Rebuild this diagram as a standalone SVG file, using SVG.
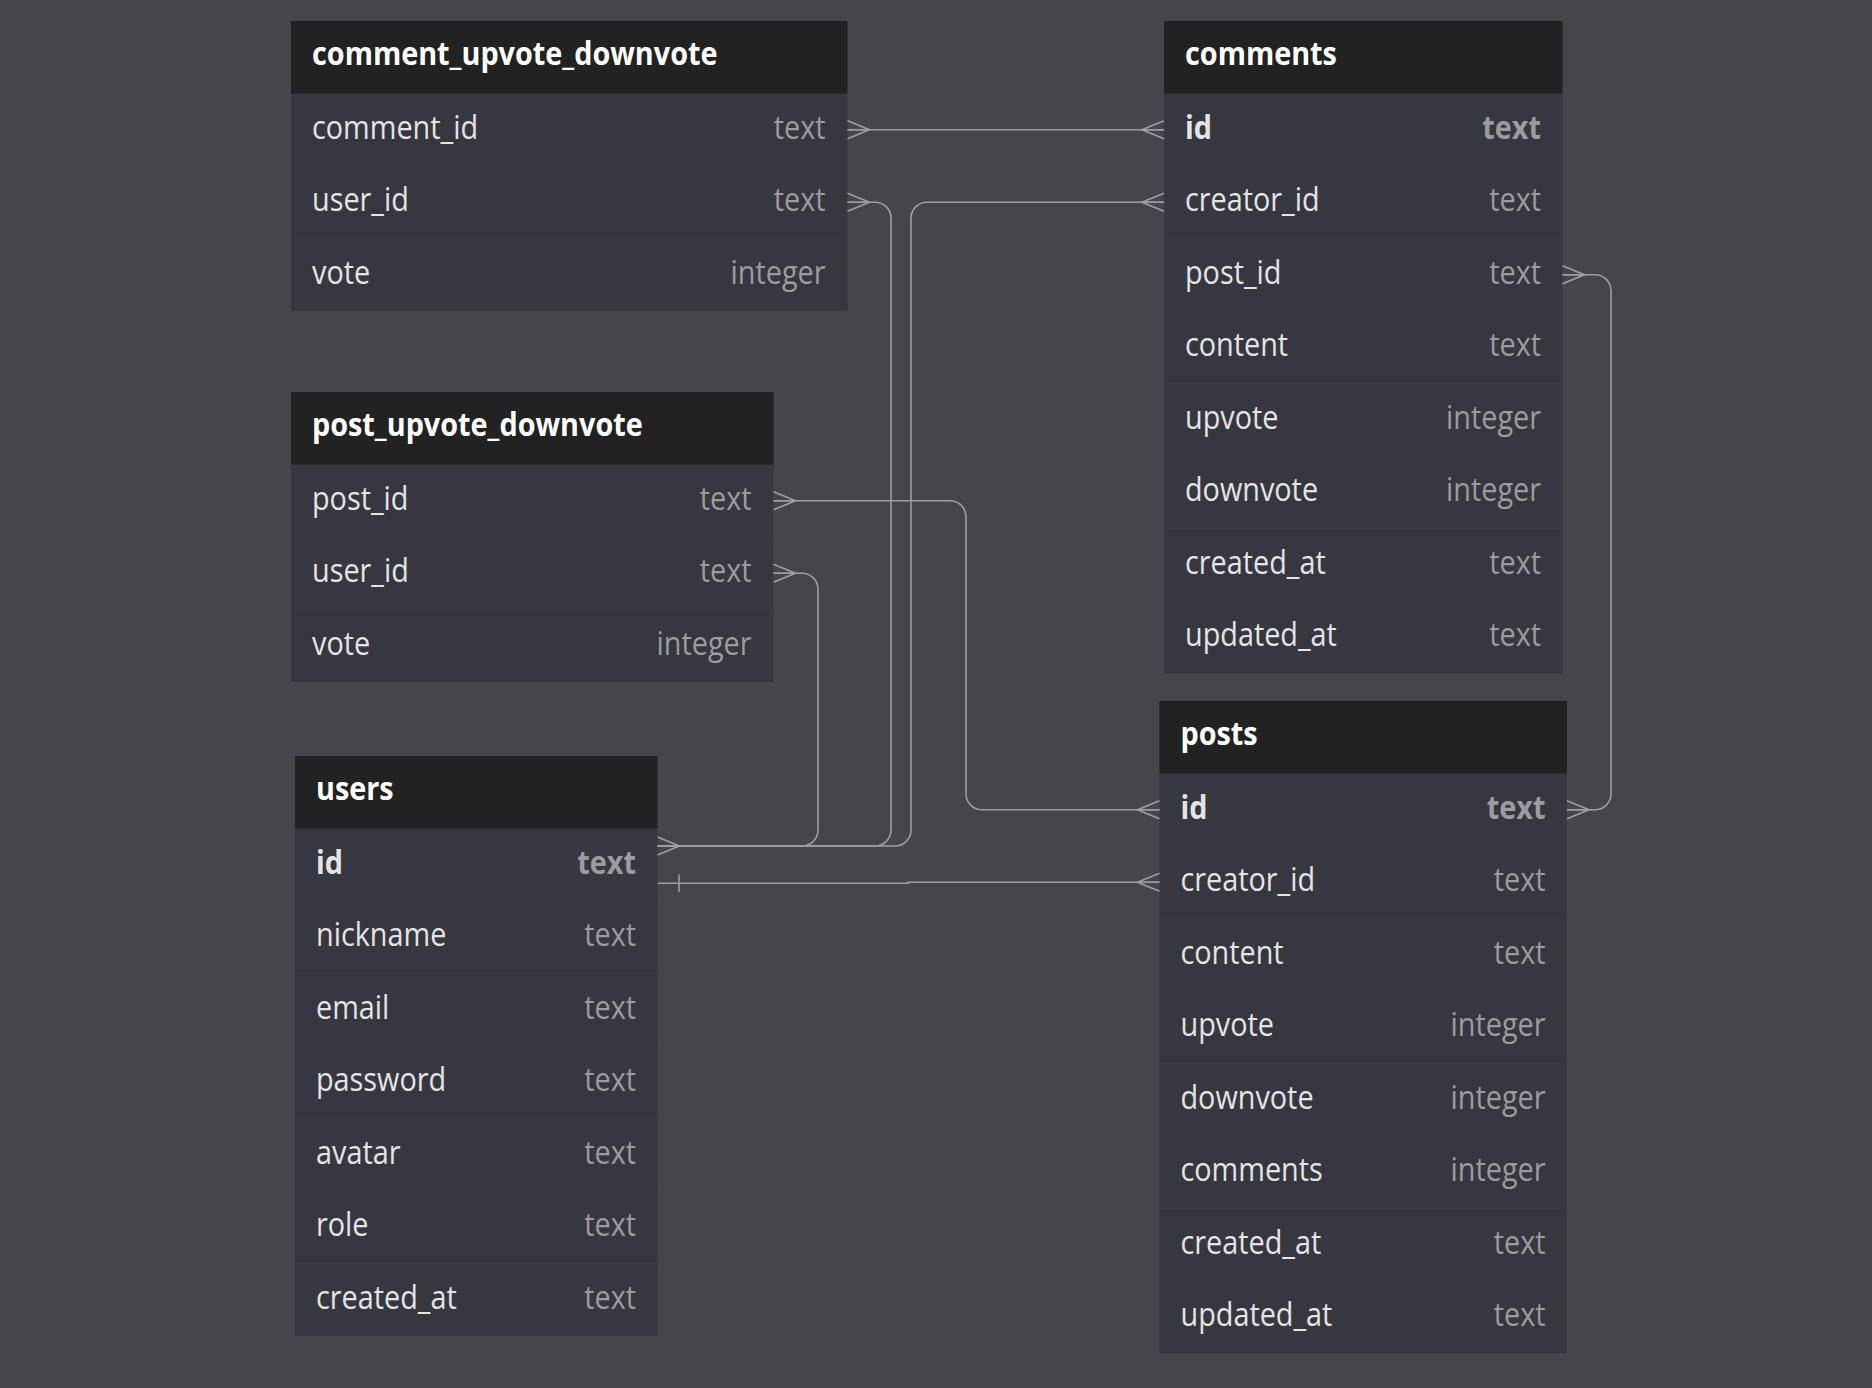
<svg xmlns="http://www.w3.org/2000/svg" xmlns:xlink="http://www.w3.org/1999/xlink" width="1872" height="1388" viewBox="0 0 1872 1388">
<style>
.bg{fill:#45464b}
.hdr{fill:#222222}
.row{fill:#36373f}
.div{stroke:#3a3b42;stroke-width:1.5}
text{font-family:"Open Sans","Noto Sans","DejaVu Sans",sans-serif;font-size:32px}
.ht{font-weight:700;fill:#ffffff}
.nm{fill:#e4e4e6}
.ty{fill:#9c9c9e;text-anchor:end}
.b{font-weight:700}
.ln{fill:none;stroke:#9d9ea4;stroke-width:1.6}
</style>
<defs>
<path id="crow" d="M0,-9 L22,0 L0,9 M0,0 H22" fill="none" stroke="#9d9ea4" stroke-width="1.6"/>
</defs>
<rect class="bg" x="0" y="0" width="1872" height="1388"/>

<g id="comment_upvote_downvote">
<rect class="row" x="291" y="21" width="556.5" height="290"/>
<rect class="hdr" x="291" y="21" width="556.5" height="72.5"/>
<line class="div" x1="291" y1="166" x2="847.5" y2="166"/>
<line class="div" x1="291" y1="238.5" x2="847.5" y2="238.5"/>
<text class="ht" transform="translate(312,65) scale(0.9,1)">comment_upvote_downvote</text>
<text class="nm" transform="translate(312,138.5) scale(0.9,1)">comment_id</text>
<text class="ty" transform="translate(825.5,138.5) scale(0.9,1)">text</text>
<text class="nm" transform="translate(312,211) scale(0.9,1)">user_id</text>
<text class="ty" transform="translate(825.5,211) scale(0.9,1)">text</text>
<text class="nm" transform="translate(312,283.5) scale(0.9,1)">vote</text>
<text class="ty" transform="translate(825.5,283.5) scale(0.9,1)">integer</text>
</g>

<g id="comments">
<rect class="row" x="1164" y="21" width="398.5" height="652.5"/>
<rect class="hdr" x="1164" y="21" width="398.5" height="72.5"/>
<line class="div" x1="1164" y1="166" x2="1562.5" y2="166"/>
<line class="div" x1="1164" y1="238.5" x2="1562.5" y2="238.5"/>
<line class="div" x1="1164" y1="311" x2="1562.5" y2="311"/>
<line class="div" x1="1164" y1="383.5" x2="1562.5" y2="383.5"/>
<line class="div" x1="1164" y1="456" x2="1562.5" y2="456"/>
<line class="div" x1="1164" y1="528.5" x2="1562.5" y2="528.5"/>
<line class="div" x1="1164" y1="601" x2="1562.5" y2="601"/>
<text class="ht" transform="translate(1185,65) scale(0.9,1)">comments</text>
<text class="nm b" transform="translate(1185,138.5) scale(0.9,1)">id</text>
<text class="ty b" transform="translate(1541,138.5) scale(0.9,1)">text</text>
<text class="nm" transform="translate(1185,211) scale(0.9,1)">creator_id</text>
<text class="ty" transform="translate(1541,211) scale(0.9,1)">text</text>
<text class="nm" transform="translate(1185,283.5) scale(0.9,1)">post_id</text>
<text class="ty" transform="translate(1541,283.5) scale(0.9,1)">text</text>
<text class="nm" transform="translate(1185,356) scale(0.9,1)">content</text>
<text class="ty" transform="translate(1541,356) scale(0.9,1)">text</text>
<text class="nm" transform="translate(1185,428.5) scale(0.9,1)">upvote</text>
<text class="ty" transform="translate(1541,428.5) scale(0.9,1)">integer</text>
<text class="nm" transform="translate(1185,501) scale(0.9,1)">downvote</text>
<text class="ty" transform="translate(1541,501) scale(0.9,1)">integer</text>
<text class="nm" transform="translate(1185,573.5) scale(0.9,1)">created_at</text>
<text class="ty" transform="translate(1541,573.5) scale(0.9,1)">text</text>
<text class="nm" transform="translate(1185,646) scale(0.9,1)">updated_at</text>
<text class="ty" transform="translate(1541,646) scale(0.9,1)">text</text>
</g>

<g id="post_upvote_downvote">
<rect class="row" x="291" y="392" width="482.5" height="290"/>
<rect class="hdr" x="291" y="392" width="482.5" height="72.5"/>
<line class="div" x1="291" y1="537" x2="773.5" y2="537"/>
<line class="div" x1="291" y1="609.5" x2="773.5" y2="609.5"/>
<text class="ht" transform="translate(312,436) scale(0.9,1)">post_upvote_downvote</text>
<text class="nm" transform="translate(312,509.5) scale(0.9,1)">post_id</text>
<text class="ty" transform="translate(751.5,509.5) scale(0.9,1)">text</text>
<text class="nm" transform="translate(312,582) scale(0.9,1)">user_id</text>
<text class="ty" transform="translate(751.5,582) scale(0.9,1)">text</text>
<text class="nm" transform="translate(312,654.5) scale(0.9,1)">vote</text>
<text class="ty" transform="translate(751.5,654.5) scale(0.9,1)">integer</text>
</g>

<g id="users">
<rect class="row" x="295" y="756" width="362.5" height="580"/>
<rect class="hdr" x="295" y="756" width="362.5" height="72.5"/>
<line class="div" x1="295" y1="901" x2="657.5" y2="901"/>
<line class="div" x1="295" y1="973.5" x2="657.5" y2="973.5"/>
<line class="div" x1="295" y1="1046" x2="657.5" y2="1046"/>
<line class="div" x1="295" y1="1118.5" x2="657.5" y2="1118.5"/>
<line class="div" x1="295" y1="1191" x2="657.5" y2="1191"/>
<line class="div" x1="295" y1="1263.5" x2="657.5" y2="1263.5"/>
<text class="ht" transform="translate(316,800) scale(0.9,1)">users</text>
<text class="nm b" transform="translate(316,873.5) scale(0.9,1)">id</text>
<text class="ty b" transform="translate(636,873.5) scale(0.9,1)">text</text>
<text class="nm" transform="translate(316,946) scale(0.9,1)">nickname</text>
<text class="ty" transform="translate(636,946) scale(0.9,1)">text</text>
<text class="nm" transform="translate(316,1018.5) scale(0.9,1)">email</text>
<text class="ty" transform="translate(636,1018.5) scale(0.9,1)">text</text>
<text class="nm" transform="translate(316,1091) scale(0.9,1)">password</text>
<text class="ty" transform="translate(636,1091) scale(0.9,1)">text</text>
<text class="nm" transform="translate(316,1163.5) scale(0.9,1)">avatar</text>
<text class="ty" transform="translate(636,1163.5) scale(0.9,1)">text</text>
<text class="nm" transform="translate(316,1236) scale(0.9,1)">role</text>
<text class="ty" transform="translate(636,1236) scale(0.9,1)">text</text>
<text class="nm" transform="translate(316,1308.5) scale(0.9,1)">created_at</text>
<text class="ty" transform="translate(636,1308.5) scale(0.9,1)">text</text>
</g>

<g id="posts">
<rect class="row" x="1159.5" y="701" width="407.5" height="652.5"/>
<rect class="hdr" x="1159.5" y="701" width="407.5" height="72.5"/>
<line class="div" x1="1159.5" y1="846" x2="1567" y2="846"/>
<line class="div" x1="1159.5" y1="918.5" x2="1567" y2="918.5"/>
<line class="div" x1="1159.5" y1="991" x2="1567" y2="991"/>
<line class="div" x1="1159.5" y1="1063.5" x2="1567" y2="1063.5"/>
<line class="div" x1="1159.5" y1="1136" x2="1567" y2="1136"/>
<line class="div" x1="1159.5" y1="1208.5" x2="1567" y2="1208.5"/>
<line class="div" x1="1159.5" y1="1281" x2="1567" y2="1281"/>
<text class="ht" transform="translate(1180.5,745) scale(0.9,1)">posts</text>
<text class="nm b" transform="translate(1180.5,818.5) scale(0.9,1)">id</text>
<text class="ty b" transform="translate(1545.5,818.5) scale(0.9,1)">text</text>
<text class="nm" transform="translate(1180.5,891) scale(0.9,1)">creator_id</text>
<text class="ty" transform="translate(1545.5,891) scale(0.9,1)">text</text>
<text class="nm" transform="translate(1180.5,963.5) scale(0.9,1)">content</text>
<text class="ty" transform="translate(1545.5,963.5) scale(0.9,1)">text</text>
<text class="nm" transform="translate(1180.5,1036) scale(0.9,1)">upvote</text>
<text class="ty" transform="translate(1545.5,1036) scale(0.9,1)">integer</text>
<text class="nm" transform="translate(1180.5,1108.5) scale(0.9,1)">downvote</text>
<text class="ty" transform="translate(1545.5,1108.5) scale(0.9,1)">integer</text>
<text class="nm" transform="translate(1180.5,1181) scale(0.9,1)">comments</text>
<text class="ty" transform="translate(1545.5,1181) scale(0.9,1)">integer</text>
<text class="nm" transform="translate(1180.5,1253.5) scale(0.9,1)">created_at</text>
<text class="ty" transform="translate(1545.5,1253.5) scale(0.9,1)">text</text>
<text class="nm" transform="translate(1180.5,1326) scale(0.9,1)">updated_at</text>
<text class="ty" transform="translate(1545.5,1326) scale(0.9,1)">text</text>
</g>

<g id="connectors">
<path class="ln" d="M847.5,129.75 H1164"/>
<use xlink:href="#crow" transform="translate(847.5,129.75)"/>
<use xlink:href="#crow" transform="translate(1164,129.75) scale(-1,1)"/>

<path class="ln" d="M847.5,202.25 H875 A16,16 0 0 1 891,218.25 V830 A16,16 0 0 1 875,846 H657.5"/>
<use xlink:href="#crow" transform="translate(847.5,202.25)"/>

<path class="ln" d="M1164,202.25 H927 A16,16 0 0 0 911,218.25 V830 A16,16 0 0 1 895,846 H657.5"/>
<use xlink:href="#crow" transform="translate(1164,202.25) scale(-1,1)"/>

<path class="ln" d="M773.5,500.75 H950 A16,16 0 0 1 966,516.75 V793.75 A16,16 0 0 0 982,809.75 H1159.5"/>
<use xlink:href="#crow" transform="translate(773.5,500.75)"/>
<use xlink:href="#crow" transform="translate(1159.5,809.75) scale(-1,1)"/>

<path class="ln" d="M773.5,573.25 H802 A16,16 0 0 1 818,589.25 V830 A16,16 0 0 1 802,846 H657.5"/>
<use xlink:href="#crow" transform="translate(773.5,573.25)"/>
<use xlink:href="#crow" transform="translate(657.5,846)"/>

<path class="ln" d="M657.5,883.3 H908 V882.25 H1159.5 M679,874.5 V892"/>
<use xlink:href="#crow" transform="translate(1159.5,882.25) scale(-1,1)"/>

<path class="ln" d="M1562.5,274.75 H1595 A16,16 0 0 1 1611,290.75 V793.75 A16,16 0 0 1 1595,809.75 H1567"/>
<use xlink:href="#crow" transform="translate(1562.5,274.75)"/>
<use xlink:href="#crow" transform="translate(1567,809.75)"/>
</g>
</svg>
